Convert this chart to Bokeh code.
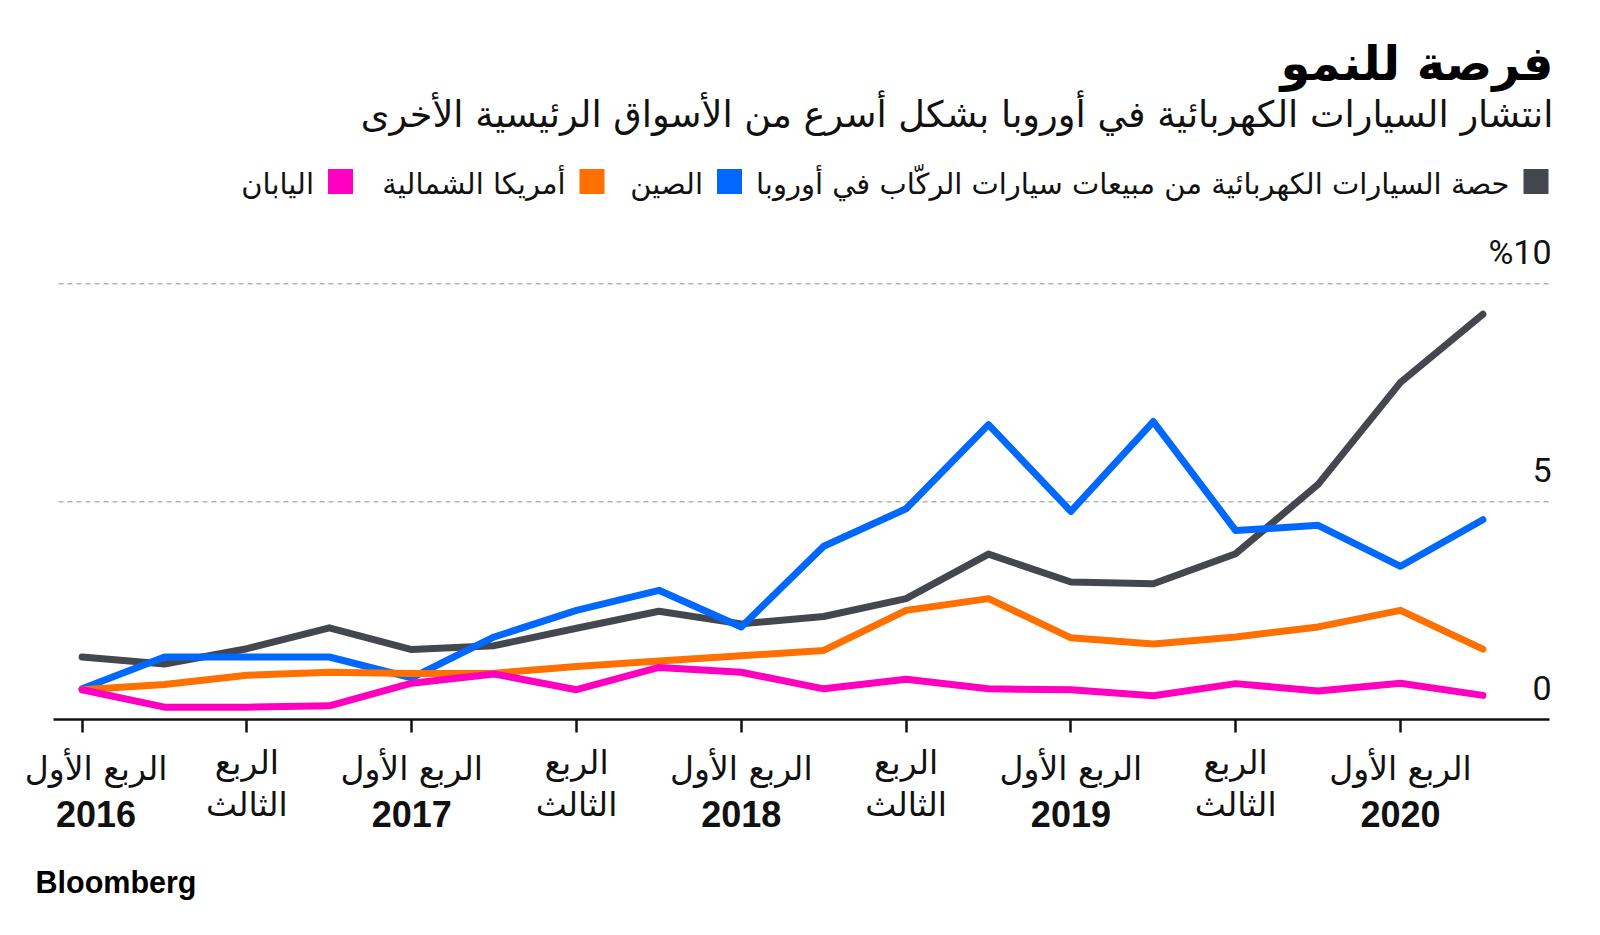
from bokeh.plotting import figure
from bokeh.models import Range1d, FixedTicker
from bokeh.core.properties import value
from bokeh.embed import file_html
from bokeh.resources import INLINE

# ---------------- data ----------------
quarters = ["2016 Q1", "2016 Q2", "2016 Q3", "2016 Q4",
            "2017 Q1", "2017 Q2", "2017 Q3", "2017 Q4",
            "2018 Q1", "2018 Q2", "2018 Q3", "2018 Q4",
            "2019 Q1", "2019 Q2", "2019 Q3", "2019 Q4",
            "2020 Q1", "2020 Q2"]
europe = [1.44, 1.28, 1.63, 2.11, 1.61, 1.70, 2.10, 2.49, 2.20,
          2.37, 2.78, 3.80, 3.16, 3.12, 3.81, 5.40, 7.74, 9.30]
china = [0.71, 1.44, 1.44, 1.44, 0.96, 1.90, 2.51, 2.97, 2.13,
         3.98, 4.84, 6.77, 4.78, 6.84, 4.34, 4.46, 3.52, 4.59]
north_america = [0.69, 0.81, 1.02, 1.09, 1.06, 1.07, 1.22, 1.35, 1.47,
                 1.59, 2.51, 2.78, 1.88, 1.74, 1.90, 2.13, 2.51, 1.62]
japan = [0.69, 0.29, 0.29, 0.32, 0.84, 1.05, 0.69, 1.20, 1.09,
         0.71, 0.93, 0.71, 0.69, 0.55, 0.83, 0.66, 0.84, 0.56]

series_names = ["حصة السيارات الكهربائية من مبيعات سيارات الركّاب في أوروبا",
                "الصين", "أمريكا الشمالية", "اليابان"]
series_colors = ["#45474f", "#0068ff", "#ff7000", "#ff00c0"]

tick_quarters = [0, 2, 4, 6, 8, 10, 12, 14, 16]
tick_line1 = ["الربع الأول", "الربع", "الربع الأول", "الربع", "الربع الأول",
              "الربع", "الربع الأول", "الربع", "الربع الأول"]
tick_line2 = ["2016", "الثالث", "2017", "الثالث", "2018",
              "الثالث", "2019", "الثالث", "2020"]

y_ticks = [0, 5, 10]
y_tick_labels = ["0", "5", "%10"]

title = "فرصة للنمو"
subtitle = "انتشار السيارات الكهربائية في أوروبا بشكل أسرع من الأسواق الرئيسية الأخرى"
source = "Bloomberg"

# ---------------- layout helpers (page pixels -> data) ----------------
X0, DX = 81.6, 82.4     # page x of first quarter, px per quarter
Y0, DY = 719.3, 43.6    # page y of 0 %, px per 1 %


def xd(px):
    return (px - X0) / DX


def yd(py):
    return (Y0 - py) / DY


W, H = 1584, 919
p = figure(width=W, height=H, output_backend="svg", toolbar_location=None,
           x_range=Range1d(xd(0), xd(W)), y_range=Range1d(yd(H), yd(0)),
           y_axis_location=None, min_border=0, outline_line_color=None,
           background_fill_color="white", border_fill_color="white")
p.grid.visible = False

AR = value("DejaVu Sans")
LAT = value("Liberation Sans")

# gridlines
grid_vals = [v for v in y_ticks if v != 0]
p.segment(x0=xd(58), x1=xd(1550), y0=grid_vals, y1=grid_vals,
          line_color="#b5b5b5", line_width=1.5, line_dash="5 4")

# x axis drawn at 0
ax = p.xaxis[0]
ax.fixed_location = 0
ax.bounds = (xd(53), xd(1549))
ax.ticker = FixedTicker(ticks=tick_quarters)
ax.major_label_text_font_size = "0px"
ax.major_label_text_color = None
ax.major_tick_in = 0
ax.major_tick_out = 13
ax.major_tick_line_width = 2.5
ax.major_tick_line_color = "#111111"
ax.minor_tick_line_color = None
ax.axis_line_width = 2.5
ax.axis_line_color = "#111111"

# lines
xs = list(range(len(quarters)))
for vals, col in zip([europe, china, north_america, japan], series_colors):
    p.line(xs, vals, line_color=col, line_width=7, line_join="round", line_cap="round")

# y labels
p.text(x=[xd(1551)] * len(y_ticks), y=y_ticks, text=y_tick_labels, y_offset=-32,
       text_font=value("Roboto"), text_font_size="34px", text_color="#111111",
       text_align="right", text_baseline="middle")

# x labels
offs = [14] + [0] * (len(tick_quarters) - 1)
is_q1 = [t.isdigit() for t in tick_line2]
p.text(x=tick_quarters, y=[yd(768) if q else yd(762) for q in is_q1], text=tick_line1,
       x_offset=offs, text_font=AR, text_font_size="33px", text_color="#111111",
       text_align="center", text_baseline="middle")
yrs_x = [t for t, q in zip(tick_quarters, is_q1) if q]
yrs_o = [o for o, q in zip(offs, is_q1) if q]
p.text(x=yrs_x, y=yd(813), text=[t for t in tick_line2 if t.isdigit()], x_offset=yrs_o,
       text_font=LAT, text_font_style="bold", text_font_size="36px", text_color="#111111",
       text_align="center", text_baseline="middle")
q3_x = [t for t, q in zip(tick_quarters, is_q1) if not q]
p.text(x=q3_x, y=yd(804), text=[t for t in tick_line2 if not t.isdigit()],
       text_font=AR, text_font_size="33px", text_color="#111111",
       text_align="center", text_baseline="middle")

# title & subtitle
p.text(x=[xd(1553)], y=[yd(62)], text=[title], text_font=AR, text_font_style="bold",
       text_font_size="48px", text_color="#000000", text_align="right", text_baseline="middle")
p.text(x=[xd(1553)], y=[yd(114)], text=[subtitle], text_font=AR,
       text_font_size="36.7px", text_color="#111111", text_align="right", text_baseline="middle")

# legend
sq_cx = [1535.5, 729, 591.5, 340]
p.scatter(x=[xd(c) for c in sq_cx], y=[yd(181)] * 4, marker="square", size=25,
          fill_color=series_colors, line_color=None)
p.text(x=[xd(c - 12.5 - 14) for c in sq_cx], y=[yd(183)] * 4, text=series_names,
       text_font=AR, text_font_size="29px", text_color="#111111",
       text_align="right", text_baseline="middle")

# source
p.text(x=[xd(35)], y=[yd(881)], text=[source], text_font=LAT, text_font_style="bold",
       text_font_size="30.5px", text_color="#000000", text_align="left",
       text_baseline="middle")

open("out.html", "w").write(file_html(p, INLINE))
